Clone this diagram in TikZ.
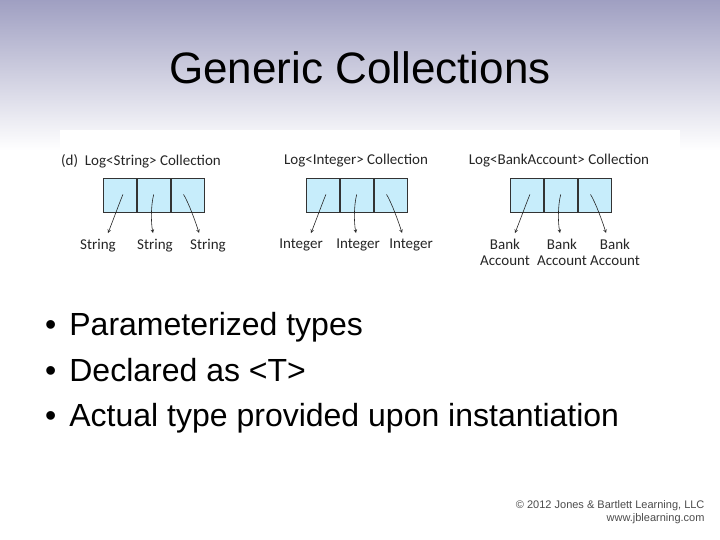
\documentclass[tikz,border=0pt]{standalone}
\usepackage{fontspec}
\setmainfont{Liberation Sans}
\newfontfamily\lab{Carlito}
\begin{document}
\begin{tikzpicture}[x=1pt,y=-1pt,
  cell/.style={draw=black!80,fill=cyan!22,minimum width=33pt,minimum height=34pt,inner sep=0pt,line width=0.8pt},
  lbl/.style={font=\lab\fontsize{15}{15.5}\selectfont,text=black!85,align=center,inner sep=0pt},
  arr/.style={->,>=stealth,black!85,line width=0.6pt},
  bul/.style={anchor=base west,font=\fontsize{32}{34}\selectfont,inner sep=0pt}]
\useasboundingbox (0,0) rectangle (720,540);
\shade[top color=black!10!blue!25!gray!60,bottom color=white] (0,0) rectangle (720,150);
\fill[white] (0,150) rectangle (720,540);
\fill[white] (60,130) rectangle (680,280);
\node[font=\fontsize{44}{48}\selectfont] (title) at (360,68) {Generic Collections};
\foreach \k/\x/\a/\b/\c in {1/103/String/String/String,
   2/306/Integer/Integer/Integer,
   3/510/{Bank\\Account}/{Bank\\Account}/{Bank\\Account}}{
  \node[cell,anchor=north west] (c\k a) at (\x,178) {};
  \node[cell,anchor=west] (c\k b) at (c\k a.east) {};
  \node[cell,anchor=west] (c\k c) at (c\k b.east) {};
  \node[lbl,anchor=north] (l\k a) at (\x-5,239) {\a};
  \node[lbl,anchor=north] (l\k b) at (\x+52,239) {\b};
  \node[lbl,anchor=north] (l\k c) at (\x+105,239) {\c};
  \coordinate (e\k a) at (\x+5,233);
  \coordinate (e\k b) at (\x+50,233);
  \coordinate (e\k c) at (\x+96,233);
  \draw[arr] ([xshift=3pt,yshift=1pt]c\k a.center) .. controls +(-4,10) and +(4,-10) .. (e\k a);
  \draw[arr] ([xshift=0pt,yshift=1pt]c\k b.center) .. controls +(-3,12) and +(-2,-10) .. (e\k b);
  \draw[arr] ([xshift=-4pt,yshift=1pt]c\k c.center) .. controls +(5,8) and +(-3,-10) .. (e\k c);
}
\node[lbl,anchor=west] (t1) at (61,161) {(d)\ \ Log<String> Collection};
\node[lbl] (t2) at (356,161) {Log<Integer> Collection};
\node[lbl] (t3) at (559,161) {Log<BankAccount> Collection};
\node[bul] (b1) at (45,335) {•\hspace{13pt}Parameterized types};
\node[bul] (b2) at (45,381) {•\hspace{13pt}Declared as <T>};
\node[bul] (b3) at (45,426) {•\hspace{13pt}Actual type provided upon instantiation};
\node[font=\fontsize{11}{13}\selectfont,text=black!70,align=right,anchor=east] (cp) at (708,512) {© 2012 Jones \& Bartlett Learning, LLC\\www.jblearning.com};
\end{tikzpicture}
\end{document}
